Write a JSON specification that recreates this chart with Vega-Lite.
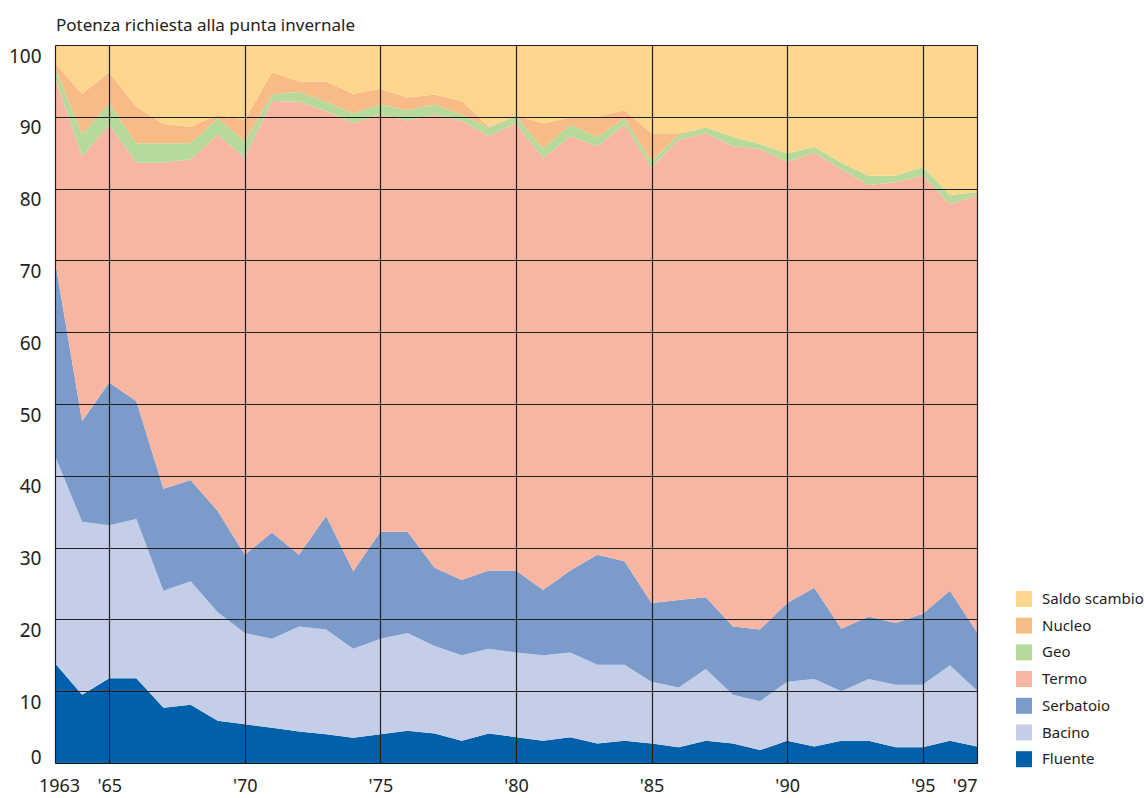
{
  "$schema": "https://vega.github.io/schema/vega-lite/v6.json",
  "width": 922,
  "height": 718,
  "autosize": {"type": "none"},
  "padding": {"left": 55, "top": 45, "right": 167, "bottom": 35},
  "background": "white",
  "config": {"view": {"stroke": null}, "font": "Noto Sans"},
  "title": {"text": "Potenza richiesta alla punta invernale", "anchor": "start", "frame": "group", "fontSize": 17, "fontWeight": "normal", "color": "#222", "offset": 10, "dx": 1},
  "datasets": {
    "d": [
      {"year":1963,"source":"Fluente","rank":1,"value":13.9},{"year":1963,"source":"Bacino","rank":2,"value":28.9},{"year":1963,"source":"Serbatoio","rank":3,"value":27.2},{"year":1963,"source":"Termo","rank":4,"value":25.5},{"year":1963,"source":"Geo","rank":5,"value":1.3},{"year":1963,"source":"Nucleo","rank":6,"value":0.7},{"year":1963,"source":"Saldo scambio","rank":7,"value":2.5},
      {"year":1964,"source":"Fluente","rank":1,"value":9.5},{"year":1964,"source":"Bacino","rank":2,"value":24.1},{"year":1964,"source":"Serbatoio","rank":3,"value":14.0},{"year":1964,"source":"Termo","rank":4,"value":36.9},{"year":1964,"source":"Geo","rank":5,"value":3.1},{"year":1964,"source":"Nucleo","rank":6,"value":5.6},{"year":1964,"source":"Saldo scambio","rank":7,"value":6.8},
      {"year":1965,"source":"Fluente","rank":1,"value":11.8},{"year":1965,"source":"Bacino","rank":2,"value":21.3},{"year":1965,"source":"Serbatoio","rank":3,"value":19.9},{"year":1965,"source":"Termo","rank":4,"value":35.9},{"year":1965,"source":"Geo","rank":5,"value":3.0},{"year":1965,"source":"Nucleo","rank":6,"value":4.3},{"year":1965,"source":"Saldo scambio","rank":7,"value":3.8},
      {"year":1966,"source":"Fluente","rank":1,"value":11.8},{"year":1966,"source":"Bacino","rank":2,"value":22.2},{"year":1966,"source":"Serbatoio","rank":3,"value":16.4},{"year":1966,"source":"Termo","rank":4,"value":33.2},{"year":1966,"source":"Geo","rank":5,"value":2.7},{"year":1966,"source":"Nucleo","rank":6,"value":5.1},{"year":1966,"source":"Saldo scambio","rank":7,"value":8.6},
      {"year":1967,"source":"Fluente","rank":1,"value":7.7},{"year":1967,"source":"Bacino","rank":2,"value":16.3},{"year":1967,"source":"Serbatoio","rank":3,"value":14.2},{"year":1967,"source":"Termo","rank":4,"value":45.4},{"year":1967,"source":"Geo","rank":5,"value":2.7},{"year":1967,"source":"Nucleo","rank":6,"value":2.7},{"year":1967,"source":"Saldo scambio","rank":7,"value":11.0},
      {"year":1968,"source":"Fluente","rank":1,"value":8.1},{"year":1968,"source":"Bacino","rank":2,"value":17.2},{"year":1968,"source":"Serbatoio","rank":3,"value":14.1},{"year":1968,"source":"Termo","rank":4,"value":44.7},{"year":1968,"source":"Geo","rank":5,"value":2.2},{"year":1968,"source":"Nucleo","rank":6,"value":2.3},{"year":1968,"source":"Saldo scambio","rank":7,"value":11.4},
      {"year":1969,"source":"Fluente","rank":1,"value":5.9},{"year":1969,"source":"Bacino","rank":2,"value":15.1},{"year":1969,"source":"Serbatoio","rank":3,"value":14.1},{"year":1969,"source":"Termo","rank":4,"value":52.4},{"year":1969,"source":"Geo","rank":5,"value":2.3},{"year":1969,"source":"Nucleo","rank":6,"value":0.5},{"year":1969,"source":"Saldo scambio","rank":7,"value":9.7},
      {"year":1970,"source":"Fluente","rank":1,"value":5.4},{"year":1970,"source":"Bacino","rank":2,"value":12.7},{"year":1970,"source":"Serbatoio","rank":3,"value":10.9},{"year":1970,"source":"Termo","rank":4,"value":55.3},{"year":1970,"source":"Geo","rank":5,"value":2.3},{"year":1970,"source":"Nucleo","rank":6,"value":3.0},{"year":1970,"source":"Saldo scambio","rank":7,"value":10.4},
      {"year":1971,"source":"Fluente","rank":1,"value":4.9},{"year":1971,"source":"Bacino","rank":2,"value":12.4},{"year":1971,"source":"Serbatoio","rank":3,"value":14.8},{"year":1971,"source":"Termo","rank":4,"value":60.1},{"year":1971,"source":"Geo","rank":5,"value":0.9},{"year":1971,"source":"Nucleo","rank":6,"value":3.1},{"year":1971,"source":"Saldo scambio","rank":7,"value":3.8},
      {"year":1972,"source":"Fluente","rank":1,"value":4.4},{"year":1972,"source":"Bacino","rank":2,"value":14.6},{"year":1972,"source":"Serbatoio","rank":3,"value":10.0},{"year":1972,"source":"Termo","rank":4,"value":63.1},{"year":1972,"source":"Geo","rank":5,"value":1.4},{"year":1972,"source":"Nucleo","rank":6,"value":1.4},{"year":1972,"source":"Saldo scambio","rank":7,"value":5.1},
      {"year":1973,"source":"Fluente","rank":1,"value":4.0},{"year":1973,"source":"Bacino","rank":2,"value":14.6},{"year":1973,"source":"Serbatoio","rank":3,"value":15.8},{"year":1973,"source":"Termo","rank":4,"value":56.4},{"year":1973,"source":"Geo","rank":5,"value":1.3},{"year":1973,"source":"Nucleo","rank":6,"value":2.8},{"year":1973,"source":"Saldo scambio","rank":7,"value":5.1},
      {"year":1974,"source":"Fluente","rank":1,"value":3.5},{"year":1974,"source":"Bacino","rank":2,"value":12.4},{"year":1974,"source":"Serbatoio","rank":3,"value":10.8},{"year":1974,"source":"Termo","rank":4,"value":62.4},{"year":1974,"source":"Geo","rank":5,"value":1.4},{"year":1974,"source":"Nucleo","rank":6,"value":2.7},{"year":1974,"source":"Saldo scambio","rank":7,"value":6.8},
      {"year":1975,"source":"Fluente","rank":1,"value":4.0},{"year":1975,"source":"Bacino","rank":2,"value":13.3},{"year":1975,"source":"Serbatoio","rank":3,"value":14.9},{"year":1975,"source":"Termo","rank":4,"value":58.1},{"year":1975,"source":"Geo","rank":5,"value":1.4},{"year":1975,"source":"Nucleo","rank":6,"value":2.2},{"year":1975,"source":"Saldo scambio","rank":7,"value":6.1},
      {"year":1976,"source":"Fluente","rank":1,"value":4.5},{"year":1976,"source":"Bacino","rank":2,"value":13.6},{"year":1976,"source":"Serbatoio","rank":3,"value":14.1},{"year":1976,"source":"Termo","rank":4,"value":57.3},{"year":1976,"source":"Geo","rank":5,"value":1.4},{"year":1976,"source":"Nucleo","rank":6,"value":1.8},{"year":1976,"source":"Saldo scambio","rank":7,"value":7.3},
      {"year":1977,"source":"Fluente","rank":1,"value":4.1},{"year":1977,"source":"Bacino","rank":2,"value":12.2},{"year":1977,"source":"Serbatoio","rank":3,"value":10.9},{"year":1977,"source":"Termo","rank":4,"value":63.1},{"year":1977,"source":"Geo","rank":5,"value":1.4},{"year":1977,"source":"Nucleo","rank":6,"value":1.4},{"year":1977,"source":"Saldo scambio","rank":7,"value":6.9},
      {"year":1978,"source":"Fluente","rank":1,"value":3.1},{"year":1978,"source":"Bacino","rank":2,"value":11.9},{"year":1978,"source":"Serbatoio","rank":3,"value":10.5},{"year":1978,"source":"Termo","rank":4,"value":63.9},{"year":1978,"source":"Geo","rank":5,"value":0.9},{"year":1978,"source":"Nucleo","rank":6,"value":1.9},{"year":1978,"source":"Saldo scambio","rank":7,"value":7.8},
      {"year":1979,"source":"Fluente","rank":1,"value":4.1},{"year":1979,"source":"Bacino","rank":2,"value":11.8},{"year":1979,"source":"Serbatoio","rank":3,"value":10.9},{"year":1979,"source":"Termo","rank":4,"value":60.5},{"year":1979,"source":"Geo","rank":5,"value":1.2},{"year":1979,"source":"Nucleo","rank":6,"value":0.1},{"year":1979,"source":"Saldo scambio","rank":7,"value":11.4},
      {"year":1980,"source":"Fluente","rank":1,"value":3.6},{"year":1980,"source":"Bacino","rank":2,"value":11.8},{"year":1980,"source":"Serbatoio","rank":3,"value":11.4},{"year":1980,"source":"Termo","rank":4,"value":62.3},{"year":1980,"source":"Geo","rank":5,"value":1.0},{"year":1980,"source":"Nucleo","rank":6,"value":0.1},{"year":1980,"source":"Saldo scambio","rank":7,"value":9.8},
      {"year":1981,"source":"Fluente","rank":1,"value":3.1},{"year":1981,"source":"Bacino","rank":2,"value":11.9},{"year":1981,"source":"Serbatoio","rank":3,"value":9.1},{"year":1981,"source":"Termo","rank":4,"value":60.1},{"year":1981,"source":"Geo","rank":5,"value":1.4},{"year":1981,"source":"Nucleo","rank":6,"value":3.5},{"year":1981,"source":"Saldo scambio","rank":7,"value":10.9},
      {"year":1982,"source":"Fluente","rank":1,"value":3.6},{"year":1982,"source":"Bacino","rank":2,"value":11.8},{"year":1982,"source":"Serbatoio","rank":3,"value":11.4},{"year":1982,"source":"Termo","rank":4,"value":60.5},{"year":1982,"source":"Geo","rank":5,"value":1.6},{"year":1982,"source":"Nucleo","rank":6,"value":1.0},{"year":1982,"source":"Saldo scambio","rank":7,"value":10.1},
      {"year":1983,"source":"Fluente","rank":1,"value":2.7},{"year":1983,"source":"Bacino","rank":2,"value":11.0},{"year":1983,"source":"Serbatoio","rank":3,"value":15.3},{"year":1983,"source":"Termo","rank":4,"value":56.9},{"year":1983,"source":"Geo","rank":5,"value":1.3},{"year":1983,"source":"Nucleo","rank":6,"value":2.8},{"year":1983,"source":"Saldo scambio","rank":7,"value":10.0},
      {"year":1984,"source":"Fluente","rank":1,"value":3.1},{"year":1984,"source":"Bacino","rank":2,"value":10.6},{"year":1984,"source":"Serbatoio","rank":3,"value":14.4},{"year":1984,"source":"Termo","rank":4,"value":60.8},{"year":1984,"source":"Geo","rank":5,"value":0.9},{"year":1984,"source":"Nucleo","rank":6,"value":1.1},{"year":1984,"source":"Saldo scambio","rank":7,"value":9.1},
      {"year":1985,"source":"Fluente","rank":1,"value":2.7},{"year":1985,"source":"Bacino","rank":2,"value":8.6},{"year":1985,"source":"Serbatoio","rank":3,"value":11.0},{"year":1985,"source":"Termo","rank":4,"value":60.6},{"year":1985,"source":"Geo","rank":5,"value":0.9},{"year":1985,"source":"Nucleo","rank":6,"value":3.9},{"year":1985,"source":"Saldo scambio","rank":7,"value":12.3},
      {"year":1986,"source":"Fluente","rank":1,"value":2.2},{"year":1986,"source":"Bacino","rank":2,"value":8.3},{"year":1986,"source":"Serbatoio","rank":3,"value":12.2},{"year":1986,"source":"Termo","rank":4,"value":64.1},{"year":1986,"source":"Geo","rank":5,"value":0.7},{"year":1986,"source":"Nucleo","rank":6,"value":0.2},{"year":1986,"source":"Saldo scambio","rank":7,"value":12.3},
      {"year":1987,"source":"Fluente","rank":1,"value":3.1},{"year":1987,"source":"Bacino","rank":2,"value":10.0},{"year":1987,"source":"Serbatoio","rank":3,"value":10.0},{"year":1987,"source":"Termo","rank":4,"value":64.6},{"year":1987,"source":"Geo","rank":5,"value":0.8},{"year":1987,"source":"Nucleo","rank":6,"value":0},{"year":1987,"source":"Saldo scambio","rank":7,"value":11.5},
      {"year":1988,"source":"Fluente","rank":1,"value":2.7},{"year":1988,"source":"Bacino","rank":2,"value":6.8},{"year":1988,"source":"Serbatoio","rank":3,"value":9.5},{"year":1988,"source":"Termo","rank":4,"value":66.9},{"year":1988,"source":"Geo","rank":5,"value":1.3},{"year":1988,"source":"Nucleo","rank":6,"value":0},{"year":1988,"source":"Saldo scambio","rank":7,"value":12.8},
      {"year":1989,"source":"Fluente","rank":1,"value":1.8},{"year":1989,"source":"Bacino","rank":2,"value":6.8},{"year":1989,"source":"Serbatoio","rank":3,"value":10.0},{"year":1989,"source":"Termo","rank":4,"value":66.9},{"year":1989,"source":"Geo","rank":5,"value":0.7},{"year":1989,"source":"Nucleo","rank":6,"value":0},{"year":1989,"source":"Saldo scambio","rank":7,"value":13.8},
      {"year":1990,"source":"Fluente","rank":1,"value":3.1},{"year":1990,"source":"Bacino","rank":2,"value":8.2},{"year":1990,"source":"Serbatoio","rank":3,"value":11.0},{"year":1990,"source":"Termo","rank":4,"value":61.4},{"year":1990,"source":"Geo","rank":5,"value":1.2},{"year":1990,"source":"Nucleo","rank":6,"value":0},{"year":1990,"source":"Saldo scambio","rank":7,"value":15.1},
      {"year":1991,"source":"Fluente","rank":1,"value":2.3},{"year":1991,"source":"Bacino","rank":2,"value":9.4},{"year":1991,"source":"Serbatoio","rank":3,"value":12.7},{"year":1991,"source":"Termo","rank":4,"value":60.6},{"year":1991,"source":"Geo","rank":5,"value":0.8},{"year":1991,"source":"Nucleo","rank":6,"value":0},{"year":1991,"source":"Saldo scambio","rank":7,"value":14.2},
      {"year":1992,"source":"Fluente","rank":1,"value":3.1},{"year":1992,"source":"Bacino","rank":2,"value":6.9},{"year":1992,"source":"Serbatoio","rank":3,"value":8.7},{"year":1992,"source":"Termo","rank":4,"value":64.0},{"year":1992,"source":"Geo","rank":5,"value":0.9},{"year":1992,"source":"Nucleo","rank":6,"value":0},{"year":1992,"source":"Saldo scambio","rank":7,"value":16.4},
      {"year":1993,"source":"Fluente","rank":1,"value":3.1},{"year":1993,"source":"Bacino","rank":2,"value":8.6},{"year":1993,"source":"Serbatoio","rank":3,"value":8.7},{"year":1993,"source":"Termo","rank":4,"value":60.1},{"year":1993,"source":"Geo","rank":5,"value":1.3},{"year":1993,"source":"Nucleo","rank":6,"value":0},{"year":1993,"source":"Saldo scambio","rank":7,"value":18.2},
      {"year":1994,"source":"Fluente","rank":1,"value":2.2},{"year":1994,"source":"Bacino","rank":2,"value":8.7},{"year":1994,"source":"Serbatoio","rank":3,"value":8.6},{"year":1994,"source":"Termo","rank":4,"value":61.4},{"year":1994,"source":"Geo","rank":5,"value":0.9},{"year":1994,"source":"Nucleo","rank":6,"value":0},{"year":1994,"source":"Saldo scambio","rank":7,"value":18.2},
      {"year":1995,"source":"Fluente","rank":1,"value":2.2},{"year":1995,"source":"Bacino","rank":2,"value":8.7},{"year":1995,"source":"Serbatoio","rank":3,"value":9.9},{"year":1995,"source":"Termo","rank":4,"value":61.0},{"year":1995,"source":"Geo","rank":5,"value":1.2},{"year":1995,"source":"Nucleo","rank":6,"value":0},{"year":1995,"source":"Saldo scambio","rank":7,"value":17.0},
      {"year":1996,"source":"Fluente","rank":1,"value":3.1},{"year":1996,"source":"Bacino","rank":2,"value":10.5},{"year":1996,"source":"Serbatoio","rank":3,"value":10.4},{"year":1996,"source":"Termo","rank":4,"value":53.8},{"year":1996,"source":"Geo","rank":5,"value":1.3},{"year":1996,"source":"Nucleo","rank":6,"value":0},{"year":1996,"source":"Saldo scambio","rank":7,"value":20.9},
      {"year":1997,"source":"Fluente","rank":1,"value":2.3},{"year":1997,"source":"Bacino","rank":2,"value":7.8},{"year":1997,"source":"Serbatoio","rank":3,"value":8.1},{"year":1997,"source":"Termo","rank":4,"value":60.9},{"year":1997,"source":"Geo","rank":5,"value":0.4},{"year":1997,"source":"Nucleo","rank":6,"value":0},{"year":1997,"source":"Saldo scambio","rank":7,"value":20.5}
    ]
  },
  "data": {"name": "d"},
  "mark": {"type": "area", "interpolate": "linear", "opacity": 1},
  "encoding": {
    "x": {
      "field": "year", "type": "quantitative",
      "scale": {"domain": [1963, 1997], "nice": false, "zero": false},
      "axis": {
        "title": null,
        "values": [1963, 1965, 1970, 1975, 1980, 1985, 1990, 1995, 1997],
        "labelExpr": "datum.value == 1963 ? '1963' : \"'\" + substring(toString(datum.value), 2)",
        "grid": true, "gridColor": "#1e1e1e", "gridWidth": 1.2, "gridOpacity": 1,
        "ticks": false, "domain": false,
        "labelFontSize": 18, "labelColor": "#222", "labelPadding": 14,
        "labelAlign": {"condition": {"test": "datum.value == 1997", "value": "right"}, "value": "center"},
        "labelOffset": {"condition": {"test": "datum.value == 1963", "value": 4}, "value": 0},
        "labelOverlap": false,
        "zindex": 1
      }
    },
    "y": {
      "field": "value", "type": "quantitative", "stack": "zero",
      "scale": {"domain": [0, 100], "nice": false},
      "axis": {
        "title": null,
        "values": [0, 10, 20, 30, 40, 50, 60, 70, 80, 90, 100],
        "grid": true, "gridColor": "#1e1e1e", "gridWidth": 1.2, "gridOpacity": 1,
        "ticks": false, "domain": false,
        "labelFontSize": 19, "labelColor": "#222", "labelPadding": 14,
        "labelOffset": {"condition": {"test": "datum.value == 0", "value": -6}, "value": 11},
        "labelOverlap": false,
        "zindex": 1
      }
    },
    "color": {
      "field": "source", "type": "nominal",
      "scale": {
        "domain": ["Saldo scambio", "Nucleo", "Geo", "Termo", "Serbatoio", "Bacino", "Fluente"],
        "range": ["#fdd68d", "#f9bb85", "#b7da9b", "#f8b5a1", "#7b9bcb", "#c5cee8", "#0060aa"]
      },
      "legend": {
        "orient": "none", "legendX": 961, "legendY": 546,
        "title": null, "symbolType": "square", "symbolSize": 256, "symbolStrokeWidth": 0, "symbolOpacity": 1,
        "labelFontSize": 15, "labelColor": "#222", "labelOffset": 10, "rowPadding": 10.7, "padding": 0
      }
    },
    "order": {"field": "rank", "type": "quantitative", "sort": "ascending"}
  }
}
